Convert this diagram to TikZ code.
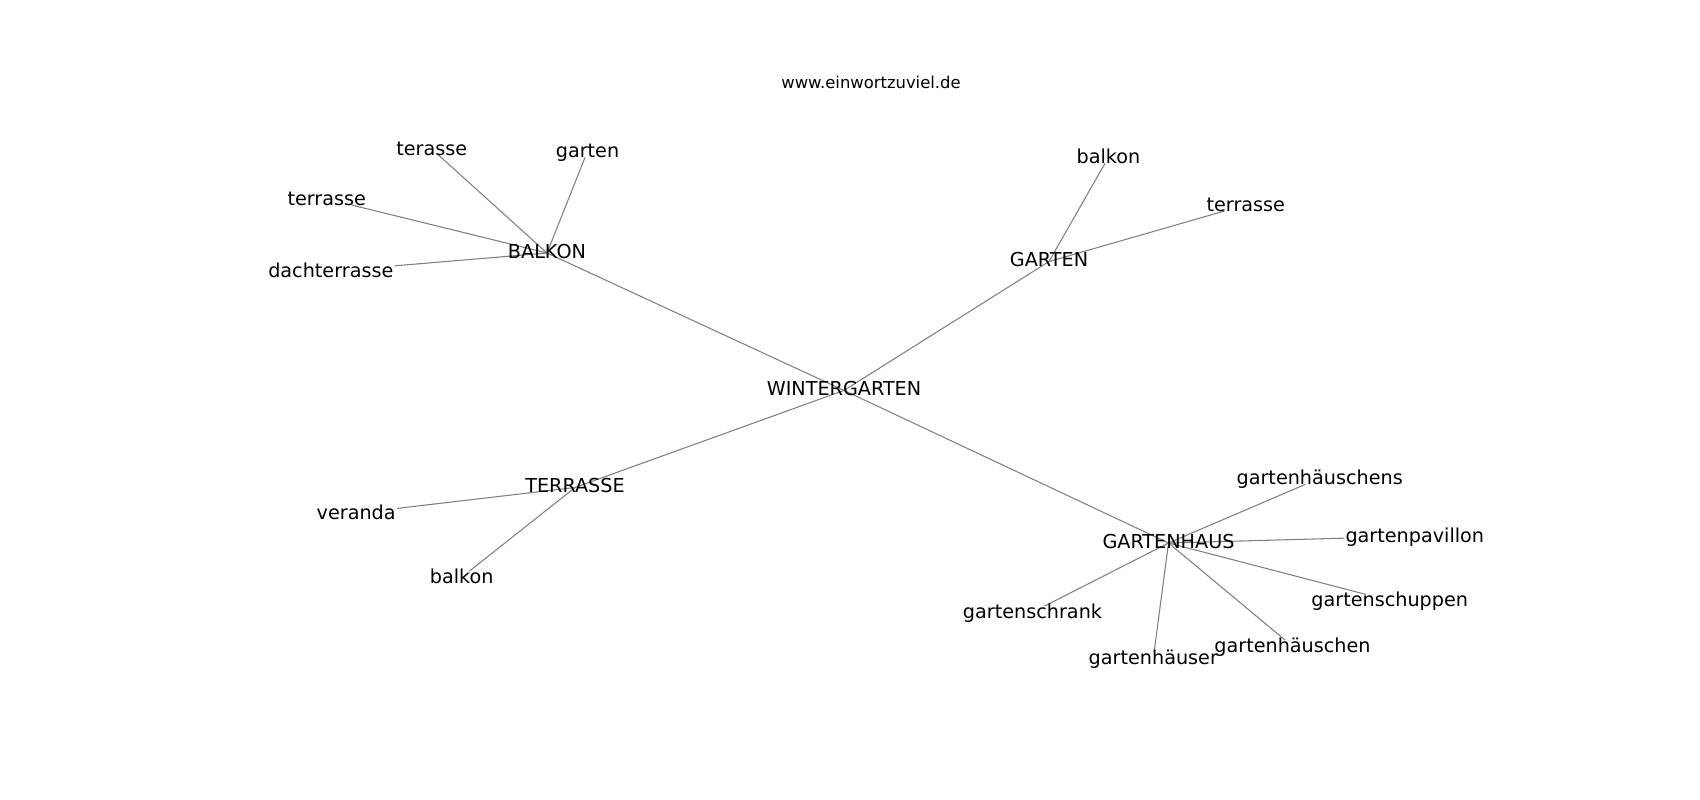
\documentclass[tikz,border=0pt]{standalone}
\usepackage{fontspec}
\setmainfont{DejaVu Sans}
\pgfdeclarelayer{bg}
\pgfsetlayers{bg,main}
\definecolor{edgecol}{RGB}{128,128,128}
\tikzset{
  lbl/.style={font=\fontsize{14.4}{17}\selectfont, inner sep=0pt, outer sep=0pt},
  hub/.style={lbl, text height=10.95pt, text depth=3pt},
  leaf/.style={lbl, inner xsep=1pt, text height=9.2pt, text depth=0pt},
  edge/.style={draw=edgecol, line width=0.8pt},
  ttl/.style={font=\fontsize{12.3}{14}\selectfont, inner sep=0pt, text height=9.35pt, text depth=2.55pt}
}
\begin{document}
\begin{tikzpicture}[x=0.75pt,y=-0.75pt]
\useasboundingbox (0,0) rectangle (1700,800);
\node[ttl] (title) at (871,83.8) {www.einwortzuviel.de};
% hubs
\node[hub] (W) at (844,390.4) {WINTERGARTEN};
\node[hub] (B) at (547,253) {BALKON};
\node[hub] (G) at (1049,261.5) {GARTEN};
\node[hub] (T) at (575,487.5) {TERRASSE};
\node[hub] (GH) at (1168.5,543) {GARTENHAUS};
% leaves of BALKON
\node[leaf] (b1) at (431.7,148.9) {terasse};
\node[leaf] (b2) at (587.5,151.2) {garten};
\node[leaf] (b3) at (326.7,198.9) {terrasse};
\node[leaf] (b4) at (330.8,271.2) {dachterrasse};
% leaves of GARTEN
\node[leaf] (g1) at (1108.5,157.2) {balkon};
\node[leaf] (g2) at (1245.8,204.9) {terrasse};
% leaves of TERRASSE
\node[leaf] (t1) at (356.2,513.2) {veranda};
\node[leaf] (t2) at (461.7,577.2) {balkon};
% leaves of GARTENHAUS
\node[leaf] (h1) at (1319.7,478.2) {gartenhäuschens};
\node[leaf] (h2) at (1414.8,536.2) {gartenpavillon};
\node[leaf] (h3) at (1389.7,600.6) {gartenschuppen};
\node[leaf] (h4) at (1292.5,646.2) {gartenhäuschen};
\node[leaf] (h5) at (1153.3,658.2) {gartenhäuser};
\node[leaf] (h6) at (1032.5,612.2) {gartenschrank};
\begin{pgfonlayer}{bg}
\draw[edge] (W.center) -- (B.center);
\draw[edge] (W.center) -- (G.center);
\draw[edge] (W.center) -- (T.center);
\draw[edge] (W.center) -- (GH.center);
\foreach \l in {b1,b2,b3,b4} \draw[edge] (B.center) -- (\l);
\foreach \l in {g1,g2} \draw[edge] (G.center) -- (\l);
\foreach \l in {t1,t2} \draw[edge] (T.center) -- (\l);
\foreach \l in {h1,h2,h3,h4,h5,h6} \draw[edge] (GH.center) -- (\l);
\end{pgfonlayer}
\end{tikzpicture}
\end{document}
